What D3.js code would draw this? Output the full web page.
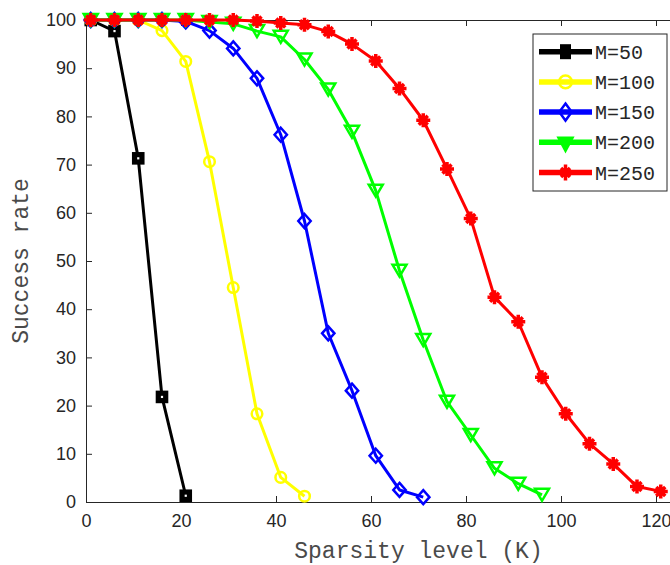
<!DOCTYPE html>
<html>
<head>
<meta charset="utf-8">
<script src="https://cdn.jsdelivr.net/npm/d3@7"></script>
<style>
html,body{margin:0;padding:0;background:#fff;}
svg{display:block;}
</style>
</head>
<body>
<svg id="chart" width="670" height="565"></svg>
<script>
// ---- data ----
const sparsityK = [1,6,11,16,21,26,31,36,41,46,51,56,61,66,71,76,81,86,91,96,101,106,111,116,121];
const seriesNames = ["M=50","M=100","M=150","M=200","M=250"];
const m50  = [100, 97.7, 71.3, 21.8, 1.3];
const m100 = [100, 100, 100, 97.8, 91.4, 70.6, 44.5, 18.3, 5.1, 1.2];
const m150 = [100, 100, 100, 100, 99.7, 97.8, 94.1, 87.9, 76.2, 58.3, 35.0, 23.1, 9.6, 2.5, 1.0];
const m200 = [100, 100, 100, 100, 100, 99.6, 99.2, 97.7, 96.5, 91.8, 85.6, 76.8, 64.6, 48.0, 33.6, 20.8, 13.9, 7.0, 3.8, 1.5];
const m250 = [100, 100, 100, 100, 100, 100, 100, 99.8, 99.4, 99.0, 97.6, 95.0, 91.5, 85.8, 79.2, 69.1, 58.8, 42.5, 37.4, 25.9, 18.3, 12.1, 7.9, 3.2, 2.2];
const xTicks = [0,20,40,60,80,100,120];
const yTicks = [0,10,20,30,40,50,60,70,80,90,100];
const xLabel = "Sparsity level (K)";
const yLabel = "Success rate";

const seriesValues = [m50, m100, m150, m200, m250];
const colors = ["#000000","#ffff00","#0000ff","#00ff00","#ff0000"];
const markers = ["square","circle","diamond","triangle","star"];

// ---- layout ----
const svg = d3.select("#chart");
const L = 86, T = 20, R = 751, B = 502;
const x = d3.scaleLinear().domain([0,140]).range([L,R]);
const y = d3.scaleLinear().domain([0,100]).range([B,T]);
const axisColor = "#262626";

const g = svg.append("g");

const tickLen = 6;
const xAxisB = d3.axisBottom(x).tickValues(xTicks).tickSizeInner(-tickLen).tickSizeOuter(0).tickPadding(12);
const xAxisT = d3.axisTop(x).tickValues(xTicks).tickSizeInner(-tickLen).tickSizeOuter(0).tickFormat("");
const yAxisL = d3.axisLeft(y).tickValues(yTicks).tickSizeInner(-tickLen).tickSizeOuter(0).tickPadding(10);
const yAxisR = d3.axisRight(y).tickValues(yTicks).tickSizeInner(-tickLen).tickSizeOuter(0).tickFormat("");

function styleAxis(sel){
  sel.select(".domain").attr("stroke", axisColor).attr("stroke-width", 1);
  sel.selectAll(".tick line").attr("stroke", axisColor).attr("stroke-width", 1);
  sel.selectAll(".tick text").attr("fill", axisColor)
     .style("font-family", "'Liberation Sans', Arial, sans-serif").style("font-size", "18px");
}
g.append("g").attr("transform", `translate(0,${B})`).call(xAxisB).call(styleAxis);
g.append("g").attr("transform", `translate(0,${T})`).call(xAxisT).call(styleAxis);
g.append("g").attr("transform", `translate(${L},0)`).call(yAxisL).call(styleAxis);
g.append("g").attr("transform", `translate(${R},0)`).call(yAxisR).call(styleAxis);

// axis labels
svg.append("text").attr("x", x(70)).attr("y", 558).attr("text-anchor","middle")
  .attr("fill", "#4a4a4a").style("font-family","'Liberation Mono', 'Courier New', monospace").style("font-size","23px")
  .text(xLabel);
svg.append("text").attr("transform", `translate(28,${(T+B)/2}) rotate(-90)`).attr("text-anchor","middle")
  .attr("fill", "#4a4a4a").style("font-family","'Liberation Mono', 'Courier New', monospace").style("font-size","23px")
  .text(yLabel);

// marker drawing
function drawMarker(sel, type, color, legend){
  const s = legend ? 1.2 : 1;
  if(type==="square"){
    if(legend){
      sel.append("rect").attr("x",-5.5).attr("y",-7.5).attr("width",11).attr("height",15).attr("fill",color);
    } else {
      sel.append("rect").attr("x",-3.7).attr("y",-3.7).attr("width",7.4).attr("height",7.4)
        .attr("fill","#fff").attr("stroke",color).attr("stroke-width",5.2);
    }
  } else if(type==="circle"){
    sel.append("circle").attr("r",5.3*s).attr("fill","none").attr("stroke",color).attr("stroke-width",2.5);
  } else if(type==="diamond"){
    const w=6.2, h = legend?8.5:7;
    sel.append("path").attr("d",`M0,${-h}L${w},0L0,${h}L${-w},0Z`).attr("fill","none").attr("stroke",color).attr("stroke-width",2.5);
  } else if(type==="triangle"){
    const w=7, h = legend?11:12;
    if(legend){
      sel.append("path").attr("d",`M${-w},${-h/2+1}L${w},${-h/2+1}L0,${h/2+3}Z`).attr("fill",color).attr("stroke",color).attr("stroke-width",2.5);
    } else {
      sel.append("path").attr("d",`M${-w},${-h/2}L${w},${-h/2}L0,${h/2}Z`).attr("fill","none").attr("stroke",color).attr("stroke-width",2.5);
    }
  } else if(type==="star"){
    const a = legend?8:7, d = 4.5;
    const p = `M${-a},0L${a},0M0,${-a}L0,${a}M${-d},${-d}L${d},${d}M${-d},${d}L${d},${-d}`;
    sel.append("path").attr("d",p).attr("fill","none").attr("stroke",color).attr("stroke-width",3.5);
  }
}

// series
const line = d3.line().x(d=>x(d[0])).y(d=>y(d[1]));
const plot = svg.append("g");
seriesValues.forEach((vals,i)=>{
  const pts = vals.map((v,j)=>[sparsityK[j], v]);
  const sg = plot.append("g");
  sg.append("path").datum(pts).attr("d", line).attr("fill","none")
    .attr("stroke", colors[i]).attr("stroke-width", 3).attr("stroke-linejoin","round");
  sg.selectAll("g.mk").data(pts).join("g").attr("class","mk")
    .attr("transform", d=>`translate(${x(d[0])},${y(d[1])})`)
    .each(function(){ drawMarker(d3.select(this), markers[i], colors[i], false); });
});

// legend
const lg = svg.append("g");
lg.append("rect").attr("x",533).attr("y",34).attr("width",134).attr("height",157)
  .attr("fill","#fff").attr("stroke",axisColor).attr("stroke-width",1);
seriesNames.forEach((name,i)=>{
  const yy = 51.7 + i*30.2;
  lg.append("line").attr("x1",539).attr("x2",592).attr("y1",yy).attr("y2",yy)
    .attr("stroke",colors[i]).attr("stroke-width",5.5);
  const mg = lg.append("g").attr("transform",`translate(565.5,${yy})`);
  drawMarker(mg, markers[i], colors[i], true);
  lg.append("text").attr("x",595).attr("y",yy+7).attr("fill",axisColor)
    .style("font-family","'Liberation Mono', 'Courier New', monospace").style("font-size","20px")
    .text(name);
});
</script>
</body>
</html>
